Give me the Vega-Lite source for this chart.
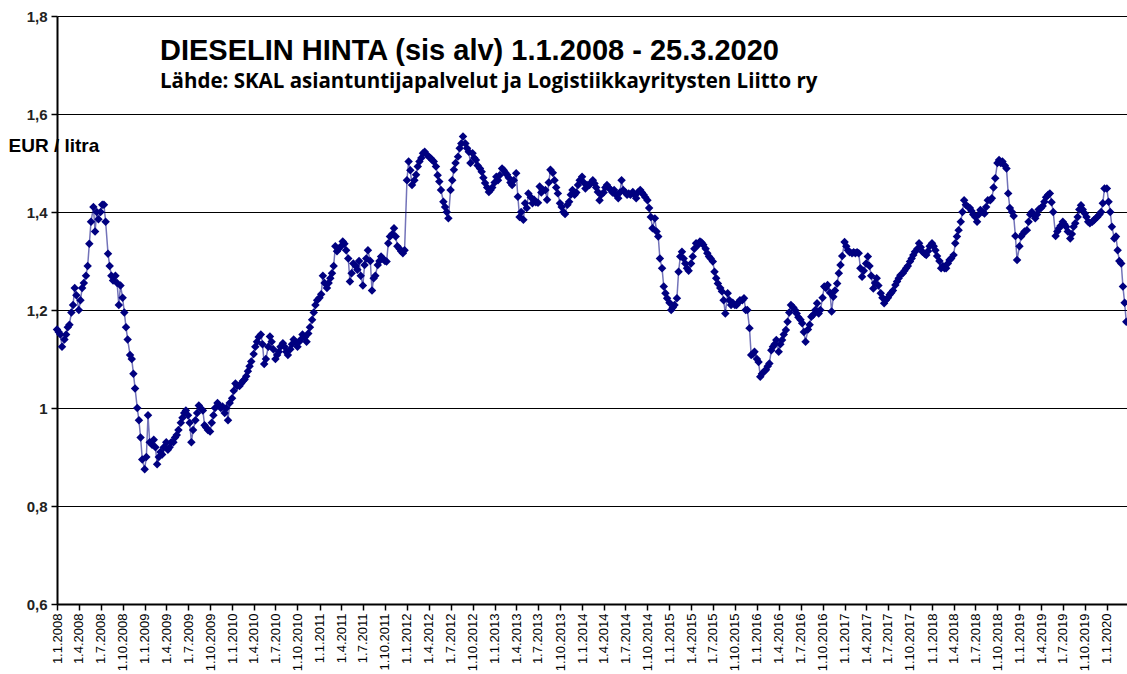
{
"$schema":"https://vega.github.io/schema/vega-lite/v6.json",
"width":1070,"height":588,
"autosize":{"type":"none"},
"padding":{"left":57,"top":16,"right":0,"bottom":70},
"background":"white",
"config":{"view":{"stroke":null}},
"title":{"text":"DIESELIN HINTA (sis alv) 1.1.2008 -  25.3.2020","subtitle":"Lähde: SKAL asiantuntijapalvelut ja Logistiikkayritysten Liitto ry","anchor":"start","frame":"group","orient":"top","dx":103,"offset":-83,"font":"Liberation Sans","fontSize":29,"fontWeight":"bold","color":"black","subtitleFont":"Open Sans","subtitleFontSize":20.5,"subtitleFontWeight":"bold","subtitleColor":"black","subtitlePadding":6},
"data":{"values":[
{"date":"2008-01-01","eur":1.16},{"date":"2008-01-08","eur":1.155},{"date":"2008-01-15","eur":1.15},{"date":"2008-01-22","eur":1.125},
{"date":"2008-02-01","eur":1.14},{"date":"2008-02-08","eur":1.15},{"date":"2008-02-15","eur":1.165},{"date":"2008-02-22","eur":1.17},
{"date":"2008-03-01","eur":1.195},{"date":"2008-03-08","eur":1.21},{"date":"2008-03-15","eur":1.245},{"date":"2008-03-22","eur":1.23},
{"date":"2008-04-01","eur":1.2},{"date":"2008-04-08","eur":1.22},{"date":"2008-04-15","eur":1.245},{"date":"2008-04-22","eur":1.255},
{"date":"2008-05-01","eur":1.27},{"date":"2008-05-08","eur":1.29},{"date":"2008-05-15","eur":1.335},{"date":"2008-05-22","eur":1.38},
{"date":"2008-06-01","eur":1.41},{"date":"2008-06-08","eur":1.36},{"date":"2008-06-15","eur":1.4},{"date":"2008-06-22","eur":1.385},
{"date":"2008-07-01","eur":1.4},{"date":"2008-07-08","eur":1.415},{"date":"2008-07-15","eur":1.415},{"date":"2008-07-22","eur":1.38},
{"date":"2008-08-01","eur":1.315},{"date":"2008-08-08","eur":1.29},{"date":"2008-08-15","eur":1.27},{"date":"2008-08-22","eur":1.26},
{"date":"2008-09-01","eur":1.27},{"date":"2008-09-08","eur":1.255},{"date":"2008-09-15","eur":1.21},{"date":"2008-09-22","eur":1.25},
{"date":"2008-10-01","eur":1.225},{"date":"2008-10-08","eur":1.195},{"date":"2008-10-15","eur":1.165},{"date":"2008-10-22","eur":1.14},
{"date":"2008-11-01","eur":1.108},{"date":"2008-11-08","eur":1.1},{"date":"2008-11-15","eur":1.07},{"date":"2008-11-22","eur":1.04},
{"date":"2008-12-01","eur":1.0},{"date":"2008-12-08","eur":0.975},{"date":"2008-12-15","eur":0.94},{"date":"2008-12-22","eur":0.895},
{"date":"2009-01-01","eur":0.875},{"date":"2009-01-08","eur":0.9},{"date":"2009-01-15","eur":0.985},{"date":"2009-01-22","eur":0.93},
{"date":"2009-02-01","eur":0.925},{"date":"2009-02-08","eur":0.935},{"date":"2009-02-15","eur":0.92},{"date":"2009-02-22","eur":0.885},
{"date":"2009-03-01","eur":0.9},{"date":"2009-03-08","eur":0.91},{"date":"2009-03-15","eur":0.905},{"date":"2009-03-22","eur":0.92},
{"date":"2009-04-01","eur":0.93},{"date":"2009-04-08","eur":0.915},{"date":"2009-04-15","eur":0.92},{"date":"2009-04-22","eur":0.93},
{"date":"2009-05-01","eur":0.93},{"date":"2009-05-08","eur":0.94},{"date":"2009-05-15","eur":0.945},{"date":"2009-05-22","eur":0.955},
{"date":"2009-06-01","eur":0.97},{"date":"2009-06-08","eur":0.98},{"date":"2009-06-15","eur":0.99},{"date":"2009-06-22","eur":0.995},
{"date":"2009-07-01","eur":0.985},{"date":"2009-07-08","eur":0.97},{"date":"2009-07-15","eur":0.93},{"date":"2009-07-22","eur":0.955},
{"date":"2009-08-01","eur":0.975},{"date":"2009-08-08","eur":0.99},{"date":"2009-08-15","eur":1.005},{"date":"2009-08-22","eur":1.0},
{"date":"2009-09-01","eur":0.995},{"date":"2009-09-08","eur":0.965},{"date":"2009-09-15","eur":0.96},{"date":"2009-09-22","eur":0.955},
{"date":"2009-10-01","eur":0.952},{"date":"2009-10-08","eur":0.97},{"date":"2009-10-15","eur":0.985},{"date":"2009-10-22","eur":1.0},
{"date":"2009-11-01","eur":1.01},{"date":"2009-11-08","eur":1.005},{"date":"2009-11-15","eur":1.0},{"date":"2009-11-22","eur":1.003},
{"date":"2009-12-01","eur":0.99},{"date":"2009-12-08","eur":1.0},{"date":"2009-12-15","eur":0.975},{"date":"2009-12-22","eur":1.01},
{"date":"2010-01-01","eur":1.02},{"date":"2010-01-08","eur":1.035},{"date":"2010-01-15","eur":1.05},{"date":"2010-01-22","eur":1.045},
{"date":"2010-02-01","eur":1.045},{"date":"2010-02-08","eur":1.05},{"date":"2010-02-15","eur":1.055},{"date":"2010-02-22","eur":1.058},
{"date":"2010-03-01","eur":1.065},{"date":"2010-03-08","eur":1.075},{"date":"2010-03-15","eur":1.085},{"date":"2010-03-22","eur":1.095},
{"date":"2010-04-01","eur":1.11},{"date":"2010-04-08","eur":1.125},{"date":"2010-04-15","eur":1.135},{"date":"2010-04-22","eur":1.145},
{"date":"2010-05-01","eur":1.15},{"date":"2010-05-08","eur":1.13},{"date":"2010-05-15","eur":1.09},{"date":"2010-05-22","eur":1.1},
{"date":"2010-06-01","eur":1.125},{"date":"2010-06-08","eur":1.146},{"date":"2010-06-15","eur":1.135},{"date":"2010-06-22","eur":1.12},
{"date":"2010-07-01","eur":1.1},{"date":"2010-07-08","eur":1.108},{"date":"2010-07-15","eur":1.115},{"date":"2010-07-22","eur":1.125},
{"date":"2010-08-01","eur":1.132},{"date":"2010-08-08","eur":1.125},{"date":"2010-08-15","eur":1.115},{"date":"2010-08-22","eur":1.108},
{"date":"2010-09-01","eur":1.12},{"date":"2010-09-08","eur":1.13},{"date":"2010-09-15","eur":1.14},{"date":"2010-09-22","eur":1.135},
{"date":"2010-10-01","eur":1.125},{"date":"2010-10-08","eur":1.135},{"date":"2010-10-15","eur":1.14},{"date":"2010-10-22","eur":1.15},
{"date":"2010-11-01","eur":1.145},{"date":"2010-11-08","eur":1.135},{"date":"2010-11-15","eur":1.152},{"date":"2010-11-22","eur":1.165},
{"date":"2010-12-01","eur":1.18},{"date":"2010-12-08","eur":1.195},{"date":"2010-12-15","eur":1.21},{"date":"2010-12-22","eur":1.22},
{"date":"2011-01-01","eur":1.225},{"date":"2011-01-08","eur":1.232},{"date":"2011-01-15","eur":1.27},{"date":"2011-01-22","eur":1.255},
{"date":"2011-02-01","eur":1.245},{"date":"2011-02-08","eur":1.255},{"date":"2011-02-15","eur":1.265},{"date":"2011-02-22","eur":1.275},
{"date":"2011-03-01","eur":1.29},{"date":"2011-03-08","eur":1.33},{"date":"2011-03-15","eur":1.32},{"date":"2011-03-22","eur":1.325},
{"date":"2011-04-01","eur":1.33},{"date":"2011-04-08","eur":1.34},{"date":"2011-04-15","eur":1.335},{"date":"2011-04-22","eur":1.322},
{"date":"2011-05-01","eur":1.305},{"date":"2011-05-08","eur":1.258},{"date":"2011-05-15","eur":1.275},{"date":"2011-05-22","eur":1.295},
{"date":"2011-06-01","eur":1.29},{"date":"2011-06-08","eur":1.282},{"date":"2011-06-15","eur":1.3},{"date":"2011-06-22","eur":1.27},
{"date":"2011-07-01","eur":1.25},{"date":"2011-07-08","eur":1.292},{"date":"2011-07-15","eur":1.305},{"date":"2011-07-22","eur":1.322},
{"date":"2011-08-01","eur":1.3},{"date":"2011-08-08","eur":1.24},{"date":"2011-08-15","eur":1.265},{"date":"2011-08-22","eur":1.27},
{"date":"2011-09-01","eur":1.292},{"date":"2011-09-08","eur":1.3},{"date":"2011-09-15","eur":1.309},{"date":"2011-09-22","eur":1.305},
{"date":"2011-10-01","eur":1.3},{"date":"2011-10-08","eur":1.299},{"date":"2011-10-15","eur":1.336},{"date":"2011-10-22","eur":1.35},
{"date":"2011-11-01","eur":1.355},{"date":"2011-11-08","eur":1.367},{"date":"2011-11-15","eur":1.35},{"date":"2011-11-22","eur":1.33},
{"date":"2011-12-01","eur":1.325},{"date":"2011-12-08","eur":1.32},{"date":"2011-12-15","eur":1.316},{"date":"2011-12-22","eur":1.322},
{"date":"2012-01-01","eur":1.465},{"date":"2012-01-08","eur":1.503},{"date":"2012-01-15","eur":1.485},{"date":"2012-01-22","eur":1.455},
{"date":"2012-02-01","eur":1.465},{"date":"2012-02-08","eur":1.476},{"date":"2012-02-15","eur":1.493},{"date":"2012-02-22","eur":1.503},
{"date":"2012-03-01","eur":1.51},{"date":"2012-03-08","eur":1.52},{"date":"2012-03-15","eur":1.523},{"date":"2012-03-22","eur":1.518},
{"date":"2012-04-01","eur":1.513},{"date":"2012-04-08","eur":1.51},{"date":"2012-04-15","eur":1.506},{"date":"2012-04-22","eur":1.503},
{"date":"2012-05-01","eur":1.493},{"date":"2012-05-08","eur":1.475},{"date":"2012-05-15","eur":1.462},{"date":"2012-05-22","eur":1.445},
{"date":"2012-06-01","eur":1.421},{"date":"2012-06-08","eur":1.41},{"date":"2012-06-15","eur":1.4},{"date":"2012-06-22","eur":1.387},
{"date":"2012-07-01","eur":1.445},{"date":"2012-07-08","eur":1.465},{"date":"2012-07-15","eur":1.486},{"date":"2012-07-22","eur":1.5},
{"date":"2012-08-01","eur":1.513},{"date":"2012-08-08","eur":1.53},{"date":"2012-08-15","eur":1.54},{"date":"2012-08-22","eur":1.554},
{"date":"2012-09-01","eur":1.54},{"date":"2012-09-08","eur":1.53},{"date":"2012-09-15","eur":1.523},{"date":"2012-09-22","eur":1.5},
{"date":"2012-10-01","eur":1.52},{"date":"2012-10-08","eur":1.51},{"date":"2012-10-15","eur":1.506},{"date":"2012-10-22","eur":1.495},
{"date":"2012-11-01","eur":1.489},{"date":"2012-11-08","eur":1.482},{"date":"2012-11-15","eur":1.47},{"date":"2012-11-22","eur":1.459},
{"date":"2012-12-01","eur":1.45},{"date":"2012-12-08","eur":1.441},{"date":"2012-12-15","eur":1.445},{"date":"2012-12-22","eur":1.45},
{"date":"2013-01-01","eur":1.46},{"date":"2013-01-08","eur":1.472},{"date":"2013-01-15","eur":1.465},{"date":"2013-01-22","eur":1.475},
{"date":"2013-02-01","eur":1.489},{"date":"2013-02-08","eur":1.485},{"date":"2013-02-15","eur":1.48},{"date":"2013-02-22","eur":1.476},
{"date":"2013-03-01","eur":1.47},{"date":"2013-03-08","eur":1.46},{"date":"2013-03-15","eur":1.455},{"date":"2013-03-22","eur":1.465},
{"date":"2013-04-01","eur":1.479},{"date":"2013-04-08","eur":1.431},{"date":"2013-04-15","eur":1.39},{"date":"2013-04-22","eur":1.4},
{"date":"2013-05-01","eur":1.384},{"date":"2013-05-08","eur":1.418},{"date":"2013-05-15","eur":1.408},{"date":"2013-05-22","eur":1.438},
{"date":"2013-06-01","eur":1.43},{"date":"2013-06-08","eur":1.418},{"date":"2013-06-15","eur":1.425},{"date":"2013-06-22","eur":1.42},
{"date":"2013-07-01","eur":1.419},{"date":"2013-07-08","eur":1.452},{"date":"2013-07-15","eur":1.44},{"date":"2013-07-22","eur":1.445},
{"date":"2013-08-01","eur":1.445},{"date":"2013-08-08","eur":1.425},{"date":"2013-08-15","eur":1.46},{"date":"2013-08-22","eur":1.486},
{"date":"2013-09-01","eur":1.48},{"date":"2013-09-08","eur":1.465},{"date":"2013-09-15","eur":1.45},{"date":"2013-09-22","eur":1.438},
{"date":"2013-10-01","eur":1.418},{"date":"2013-10-08","eur":1.41},{"date":"2013-10-15","eur":1.4},{"date":"2013-10-22","eur":1.396},
{"date":"2013-11-01","eur":1.415},{"date":"2013-11-08","eur":1.421},{"date":"2013-11-15","eur":1.435},{"date":"2013-11-22","eur":1.445},
{"date":"2013-12-01","eur":1.435},{"date":"2013-12-08","eur":1.44},{"date":"2013-12-15","eur":1.455},{"date":"2013-12-22","eur":1.465},
{"date":"2014-01-01","eur":1.472},{"date":"2014-01-08","eur":1.46},{"date":"2014-01-15","eur":1.448},{"date":"2014-01-22","eur":1.455},
{"date":"2014-02-01","eur":1.455},{"date":"2014-02-08","eur":1.46},{"date":"2014-02-15","eur":1.465},{"date":"2014-02-22","eur":1.458},
{"date":"2014-03-01","eur":1.45},{"date":"2014-03-08","eur":1.441},{"date":"2014-03-15","eur":1.424},{"date":"2014-03-22","eur":1.435},
{"date":"2014-04-01","eur":1.44},{"date":"2014-04-08","eur":1.45},{"date":"2014-04-15","eur":1.455},{"date":"2014-04-22","eur":1.45},
{"date":"2014-05-01","eur":1.445},{"date":"2014-05-08","eur":1.44},{"date":"2014-05-15","eur":1.445},{"date":"2014-05-22","eur":1.435},
{"date":"2014-06-01","eur":1.428},{"date":"2014-06-08","eur":1.44},{"date":"2014-06-15","eur":1.465},{"date":"2014-06-22","eur":1.445},
{"date":"2014-07-01","eur":1.44},{"date":"2014-07-08","eur":1.435},{"date":"2014-07-15","eur":1.438},{"date":"2014-07-22","eur":1.435},
{"date":"2014-08-01","eur":1.441},{"date":"2014-08-08","eur":1.435},{"date":"2014-08-15","eur":1.428},{"date":"2014-08-22","eur":1.44},
{"date":"2014-09-01","eur":1.445},{"date":"2014-09-08","eur":1.44},{"date":"2014-09-15","eur":1.435},{"date":"2014-09-22","eur":1.43},
{"date":"2014-10-01","eur":1.424},{"date":"2014-10-08","eur":1.408},{"date":"2014-10-15","eur":1.39},{"date":"2014-10-22","eur":1.367},
{"date":"2014-11-01","eur":1.387},{"date":"2014-11-08","eur":1.36},{"date":"2014-11-15","eur":1.35},{"date":"2014-11-22","eur":1.305},
{"date":"2014-12-01","eur":1.285},{"date":"2014-12-08","eur":1.248},{"date":"2014-12-15","eur":1.234},{"date":"2014-12-22","eur":1.224},
{"date":"2015-01-01","eur":1.215},{"date":"2015-01-08","eur":1.2},{"date":"2015-01-15","eur":1.205},{"date":"2015-01-22","eur":1.21},
{"date":"2015-02-01","eur":1.224},{"date":"2015-02-08","eur":1.278},{"date":"2015-02-15","eur":1.309},{"date":"2015-02-22","eur":1.319},
{"date":"2015-03-01","eur":1.305},{"date":"2015-03-08","eur":1.295},{"date":"2015-03-15","eur":1.285},{"date":"2015-03-22","eur":1.28},
{"date":"2015-04-01","eur":1.295},{"date":"2015-04-08","eur":1.309},{"date":"2015-04-15","eur":1.325},{"date":"2015-04-22","eur":1.336},
{"date":"2015-05-01","eur":1.333},{"date":"2015-05-08","eur":1.34},{"date":"2015-05-15","eur":1.338},{"date":"2015-05-22","eur":1.333},
{"date":"2015-06-01","eur":1.325},{"date":"2015-06-08","eur":1.316},{"date":"2015-06-15","eur":1.309},{"date":"2015-06-22","eur":1.305},
{"date":"2015-07-01","eur":1.299},{"date":"2015-07-08","eur":1.278},{"date":"2015-07-15","eur":1.265},{"date":"2015-07-22","eur":1.254},
{"date":"2015-08-01","eur":1.245},{"date":"2015-08-08","eur":1.238},{"date":"2015-08-15","eur":1.22},{"date":"2015-08-22","eur":1.193},
{"date":"2015-09-01","eur":1.234},{"date":"2015-09-08","eur":1.22},{"date":"2015-09-15","eur":1.21},{"date":"2015-09-22","eur":1.215},
{"date":"2015-10-01","eur":1.21},{"date":"2015-10-08","eur":1.21},{"date":"2015-10-15","eur":1.215},{"date":"2015-10-22","eur":1.22},
{"date":"2015-11-01","eur":1.22},{"date":"2015-11-08","eur":1.224},{"date":"2015-11-15","eur":1.2},{"date":"2015-11-22","eur":1.2},
{"date":"2015-12-01","eur":1.163},{"date":"2015-12-08","eur":1.108},{"date":"2015-12-15","eur":1.11},{"date":"2015-12-22","eur":1.115},
{"date":"2016-01-01","eur":1.1},{"date":"2016-01-08","eur":1.094},{"date":"2016-01-15","eur":1.064},{"date":"2016-01-22","eur":1.07},
{"date":"2016-02-01","eur":1.075},{"date":"2016-02-08","eur":1.078},{"date":"2016-02-15","eur":1.085},{"date":"2016-02-22","eur":1.091},
{"date":"2016-03-01","eur":1.118},{"date":"2016-03-08","eur":1.125},{"date":"2016-03-15","eur":1.13},{"date":"2016-03-22","eur":1.139},
{"date":"2016-04-01","eur":1.115},{"date":"2016-04-08","eur":1.13},{"date":"2016-04-15","eur":1.139},{"date":"2016-04-22","eur":1.15},
{"date":"2016-05-01","eur":1.159},{"date":"2016-05-08","eur":1.176},{"date":"2016-05-15","eur":1.195},{"date":"2016-05-22","eur":1.21},
{"date":"2016-06-01","eur":1.205},{"date":"2016-06-08","eur":1.2},{"date":"2016-06-15","eur":1.193},{"date":"2016-06-22","eur":1.185},
{"date":"2016-07-01","eur":1.18},{"date":"2016-07-08","eur":1.173},{"date":"2016-07-15","eur":1.155},{"date":"2016-07-22","eur":1.135},
{"date":"2016-08-01","eur":1.16},{"date":"2016-08-08","eur":1.17},{"date":"2016-08-15","eur":1.186},{"date":"2016-08-22","eur":1.19},
{"date":"2016-09-01","eur":1.2},{"date":"2016-09-08","eur":1.214},{"date":"2016-09-15","eur":1.193},{"date":"2016-09-22","eur":1.2},
{"date":"2016-10-01","eur":1.225},{"date":"2016-10-08","eur":1.248},{"date":"2016-10-15","eur":1.245},{"date":"2016-10-22","eur":1.251},
{"date":"2016-11-01","eur":1.235},{"date":"2016-11-08","eur":1.197},{"date":"2016-11-15","eur":1.227},{"date":"2016-11-22","eur":1.24},
{"date":"2016-12-01","eur":1.254},{"date":"2016-12-08","eur":1.275},{"date":"2016-12-15","eur":1.292},{"date":"2016-12-22","eur":1.31},
{"date":"2017-01-01","eur":1.339},{"date":"2017-01-08","eur":1.33},{"date":"2017-01-15","eur":1.322},{"date":"2017-01-22","eur":1.318},
{"date":"2017-02-01","eur":1.316},{"date":"2017-02-08","eur":1.318},{"date":"2017-02-15","eur":1.316},{"date":"2017-02-22","eur":1.318},
{"date":"2017-03-01","eur":1.316},{"date":"2017-03-08","eur":1.285},{"date":"2017-03-15","eur":1.268},{"date":"2017-03-22","eur":1.28},
{"date":"2017-04-01","eur":1.295},{"date":"2017-04-08","eur":1.309},{"date":"2017-04-15","eur":1.29},{"date":"2017-04-22","eur":1.27},
{"date":"2017-05-01","eur":1.244},{"date":"2017-05-08","eur":1.255},{"date":"2017-05-15","eur":1.265},{"date":"2017-05-22","eur":1.25},
{"date":"2017-06-01","eur":1.234},{"date":"2017-06-08","eur":1.225},{"date":"2017-06-15","eur":1.214},{"date":"2017-06-22","eur":1.22},
{"date":"2017-07-01","eur":1.225},{"date":"2017-07-08","eur":1.231},{"date":"2017-07-15","eur":1.235},{"date":"2017-07-22","eur":1.24},
{"date":"2017-08-01","eur":1.251},{"date":"2017-08-08","eur":1.258},{"date":"2017-08-15","eur":1.265},{"date":"2017-08-22","eur":1.271},
{"date":"2017-09-01","eur":1.275},{"date":"2017-09-08","eur":1.28},{"date":"2017-09-15","eur":1.285},{"date":"2017-09-22","eur":1.29},
{"date":"2017-10-01","eur":1.299},{"date":"2017-10-08","eur":1.305},{"date":"2017-10-15","eur":1.312},{"date":"2017-10-22","eur":1.319},
{"date":"2017-11-01","eur":1.325},{"date":"2017-11-08","eur":1.336},{"date":"2017-11-15","eur":1.328},{"date":"2017-11-22","eur":1.319},
{"date":"2017-12-01","eur":1.315},{"date":"2017-12-08","eur":1.312},{"date":"2017-12-15","eur":1.32},{"date":"2017-12-22","eur":1.33},
{"date":"2018-01-01","eur":1.336},{"date":"2018-01-08","eur":1.33},{"date":"2018-01-15","eur":1.322},{"date":"2018-01-22","eur":1.31},
{"date":"2018-02-01","eur":1.3},{"date":"2018-02-08","eur":1.285},{"date":"2018-02-15","eur":1.29},{"date":"2018-02-22","eur":1.285},
{"date":"2018-03-01","eur":1.285},{"date":"2018-03-08","eur":1.295},{"date":"2018-03-15","eur":1.302},{"date":"2018-03-22","eur":1.305},
{"date":"2018-04-01","eur":1.312},{"date":"2018-04-08","eur":1.336},{"date":"2018-04-15","eur":1.35},{"date":"2018-04-22","eur":1.363},
{"date":"2018-05-01","eur":1.38},{"date":"2018-05-08","eur":1.4},{"date":"2018-05-15","eur":1.424},{"date":"2018-05-22","eur":1.415},
{"date":"2018-06-01","eur":1.41},{"date":"2018-06-08","eur":1.408},{"date":"2018-06-15","eur":1.402},{"date":"2018-06-22","eur":1.395},
{"date":"2018-07-01","eur":1.39},{"date":"2018-07-08","eur":1.38},{"date":"2018-07-15","eur":1.395},{"date":"2018-07-22","eur":1.404},
{"date":"2018-08-01","eur":1.4},{"date":"2018-08-08","eur":1.397},{"date":"2018-08-15","eur":1.41},{"date":"2018-08-22","eur":1.424},
{"date":"2018-09-01","eur":1.424},{"date":"2018-09-08","eur":1.428},{"date":"2018-09-15","eur":1.45},{"date":"2018-09-22","eur":1.469},
{"date":"2018-10-01","eur":1.5},{"date":"2018-10-08","eur":1.506},{"date":"2018-10-15","eur":1.5},{"date":"2018-10-22","eur":1.503},
{"date":"2018-11-01","eur":1.495},{"date":"2018-11-08","eur":1.489},{"date":"2018-11-15","eur":1.438},{"date":"2018-11-22","eur":1.408},
{"date":"2018-12-01","eur":1.4},{"date":"2018-12-08","eur":1.392},{"date":"2018-12-15","eur":1.351},{"date":"2018-12-22","eur":1.302},
{"date":"2019-01-01","eur":1.33},{"date":"2019-01-08","eur":1.35},{"date":"2019-01-15","eur":1.355},{"date":"2019-01-22","eur":1.36},
{"date":"2019-02-01","eur":1.363},{"date":"2019-02-08","eur":1.38},{"date":"2019-02-15","eur":1.395},{"date":"2019-02-22","eur":1.4},
{"date":"2019-03-01","eur":1.395},{"date":"2019-03-08","eur":1.387},{"date":"2019-03-15","eur":1.395},{"date":"2019-03-22","eur":1.405},
{"date":"2019-04-01","eur":1.408},{"date":"2019-04-08","eur":1.412},{"date":"2019-04-15","eur":1.421},{"date":"2019-04-22","eur":1.43},
{"date":"2019-05-01","eur":1.435},{"date":"2019-05-08","eur":1.438},{"date":"2019-05-15","eur":1.42},{"date":"2019-05-22","eur":1.4},
{"date":"2019-06-01","eur":1.351},{"date":"2019-06-08","eur":1.36},{"date":"2019-06-15","eur":1.367},{"date":"2019-06-22","eur":1.372},
{"date":"2019-07-01","eur":1.38},{"date":"2019-07-08","eur":1.375},{"date":"2019-07-15","eur":1.37},{"date":"2019-07-22","eur":1.36},
{"date":"2019-08-01","eur":1.346},{"date":"2019-08-08","eur":1.355},{"date":"2019-08-15","eur":1.37},{"date":"2019-08-22","eur":1.377},
{"date":"2019-09-01","eur":1.39},{"date":"2019-09-08","eur":1.405},{"date":"2019-09-15","eur":1.414},{"date":"2019-09-22","eur":1.405},
{"date":"2019-10-01","eur":1.397},{"date":"2019-10-08","eur":1.39},{"date":"2019-10-15","eur":1.38},{"date":"2019-10-22","eur":1.377},
{"date":"2019-11-01","eur":1.38},{"date":"2019-11-08","eur":1.383},{"date":"2019-11-15","eur":1.387},{"date":"2019-11-22","eur":1.39},
{"date":"2019-12-01","eur":1.395},{"date":"2019-12-08","eur":1.4},{"date":"2019-12-15","eur":1.418},{"date":"2019-12-22","eur":1.448},
{"date":"2020-01-01","eur":1.448},{"date":"2020-01-08","eur":1.421},{"date":"2020-01-15","eur":1.4},{"date":"2020-01-22","eur":1.37},
{"date":"2020-02-01","eur":1.346},{"date":"2020-02-08","eur":1.35},{"date":"2020-02-15","eur":1.322},{"date":"2020-02-22","eur":1.3},
{"date":"2020-03-01","eur":1.295},{"date":"2020-03-08","eur":1.248},{"date":"2020-03-15","eur":1.215},{"date":"2020-03-22","eur":1.176}
]},
"encoding":{
"x":{"field":"date","type":"temporal",
"scale":{"type":"utc","nice":false,"domain":[{"year":2008,"month":1,"date":1,"utc":true},{"year":2020,"month":3,"date":25,"utc":true}]},
"axis":{"title":null,"tickCount":{"interval":"month","step":3},"labelExpr":"utcFormat(datum.value,'%-d.%-m.%Y')","labelAngle":-90,"labelOverlap":false,"labelFlush":false,"grid":false,"domainColor":"black","domainWidth":2,"tickColor":"black","tickSize":6,"tickWidth":1.5,"labelFont":"Liberation Sans","labelFontSize":13,"labelColor":"black","labelPadding":3}},
"y":{"field":"eur","type":"quantitative",
"scale":{"domain":[0.6,1.8],"nice":false,"zero":false},
"axis":{"values":[0.6,0.8,1,1.2,1.4,1.6,1.8],"grid":true,"gridColor":"black","gridWidth":1.2,"gridOpacity":1,"domainColor":"black","domainWidth":2,"tickColor":"black","tickSize":6,"tickWidth":1.5,"labelFont":"Liberation Sans","labelFontSize":15,"labelFontWeight":"bold","labelColor":"#222222","labelPadding":4,"labelExpr":"replace(format(datum.value,'.1~f'),'.',',')","title":"EUR / litra","titleAngle":0,"titleX":-49,"titleY":129,"titleAlign":"left","titleBaseline":"middle","titleFont":"Liberation Sans","titleFontSize":19,"titleFontWeight":"bold","titleColor":"black"}}
},
"layer":[
{"mark":{"type":"line","color":"#000080","strokeWidth":1.5,"opacity":0.55}},
{"mark":{"type":"point","shape":"diamond","filled":true,"color":"#000080","size":72,"opacity":1}}
]
}
